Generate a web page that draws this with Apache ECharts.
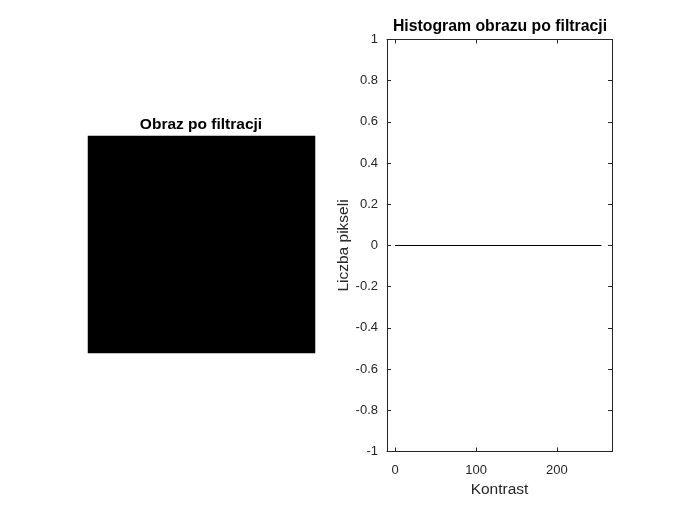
<!DOCTYPE html>
<html>
<head>
<meta charset="utf-8">
<script src="https://cdn.jsdelivr.net/npm/echarts@6/dist/echarts.min.js"></script>
<style>
  html, body { margin: 0; padding: 0; background: #fff; }
  #chart { width: 677px; height: 508px; }
</style>
</head>
<body>
<div id="chart"></div>
<script>
// filtered image: uniformly 0 (black), drawn as one block
const obrazPiksele = [
  [0]
];
// histogram: contrast levels 0..255, all counts zero
const kontrast = [0, 255];
const liczbaPikseli = [0, 0];
const xTicks = [0, 100, 200];

const AXIS = '#262626';
const FONT = '"Liberation Sans", Arial, sans-serif';

function initChart() {
  const el = document.getElementById('chart');
  const chart = echarts.init(el);

  const cells = [];
  obrazPiksele.forEach((row, r) => row.forEach((v, c) => cells.push([c, r, v])));
  const idx = obrazPiksele[0].map((_, i) => i);

  const tickStyle = { inside: true, length: 4, lineStyle: { color: AXIS } };
  const lineStyle = { show: true, onZero: false, lineStyle: { color: AXIS, width: 1 } };

  chart.setOption({
    animation: false,
    textStyle: { fontFamily: FONT },
    graphic: [
      { type: 'text', style: { text: 'Obraz po filtracji', x: 201, y: 117, textAlign: 'center',
        textVerticalAlign: 'top', font: 'bold 15.5px ' + FONT, fill: '#000' } },
      { type: 'text', style: { text: 'Histogram obrazu po filtracji', x: 500, y: 19, textAlign: 'center',
        textVerticalAlign: 'top', font: 'bold 15.8px ' + FONT, fill: '#000' } }
    ],
    grid: [
      { left: 88, top: 136, width: 227, height: 217 },
      { left: 387, top: 39.5, width: 225, height: 412 }
    ],
    visualMap: {
      show: false, seriesIndex: 0, min: 0, max: 255,
      inRange: { color: ['#000000', '#ffffff'] }
    },
    xAxis: [
      { gridIndex: 0, type: 'category', data: idx, show: false },
      {
        gridIndex: 1, type: 'value', min: -10, max: 268,
        name: 'Kontrast', nameLocation: 'middle', nameGap: 30,
        nameTextStyle: { color: AXIS, fontSize: 15.5 },
        axisLine: lineStyle,
        axisTick: Object.assign({ customValues: xTicks }, tickStyle),
        axisLabel: { customValues: xTicks, color: AXIS, fontSize: 13, margin: 12 },
        splitLine: { show: false }
      },
      {
        gridIndex: 1, type: 'value', position: 'top', min: -10, max: 268,
        axisLine: lineStyle,
        axisTick: Object.assign({ customValues: xTicks }, tickStyle),
        axisLabel: { show: false },
        splitLine: { show: false }
      }
    ],
    yAxis: [
      { gridIndex: 0, type: 'category', data: idx, inverse: true, show: false },
      {
        gridIndex: 1, type: 'value', min: -1, max: 1, interval: 0.2,
        name: 'Liczba pikseli', nameLocation: 'middle', nameGap: 35,
        nameTextStyle: { color: AXIS, fontSize: 15.5 },
        axisLine: lineStyle, axisTick: tickStyle,
        axisLabel: { color: AXIS, fontSize: 13, margin: 9, formatter: v => String(+v.toFixed(1)) },
        splitLine: { show: false }
      },
      {
        gridIndex: 1, type: 'value', position: 'right', min: -1, max: 1, interval: 0.2,
        axisLine: lineStyle, axisTick: tickStyle,
        axisLabel: { show: false }, splitLine: { show: false }
      }
    ],
    series: [
      {
        type: 'heatmap', xAxisIndex: 0, yAxisIndex: 0,
        data: cells, itemStyle: { borderWidth: 0 }
      },
      {
        type: 'line', xAxisIndex: 1, yAxisIndex: 1,
        data: kontrast.map((k, i) => [k, liczbaPikseli[i]]),
        showSymbol: false, lineStyle: { color: '#000', width: 1 }
      }
    ]
  });

  window.addEventListener('resize', () => chart.resize());
}

initChart();
</script>
</body>
</html>
